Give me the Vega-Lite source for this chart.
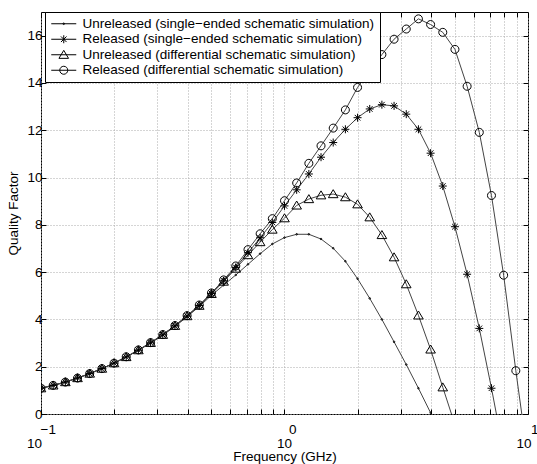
{
  "$schema": "https://vega.github.io/schema/vega-lite/v6.json",
  "width": 487,
  "height": 402,
  "autosize": "none",
  "padding": {"left": 41, "top": 12, "right": 9, "bottom": 50},
  "background": "white",
  "config": {
    "view": {"stroke": "#000", "strokeWidth": 1},
    "font": "Liberation Sans",
    "axis": {
      "labelFont": "Liberation Sans",
      "titleFont": "Liberation Sans",
      "labelFontSize": 13.5,
      "titleFontSize": 13.5,
      "titleFontWeight": "normal",
      "labelColor": "#000",
      "titleColor": "#000",
      "tickColor": "#000",
      "domainColor": "#000",
      "gridColor": "#aaaaaa",
      "gridDash": [1, 2],
      "gridOpacity": 1,
      "gridWidth": 1
    }
  },
  "data": {
    "values": [
      {"f": 0.1, "a": 1.09, "b": 1.09, "c": 1.09, "d": 1.09},
      {"f": 0.1122, "a": 1.21, "b": 1.21, "c": 1.21, "d": 1.21},
      {"f": 0.12589, "a": 1.35, "b": 1.35, "c": 1.35, "d": 1.35},
      {"f": 0.14125, "a": 1.52, "b": 1.52, "c": 1.52, "d": 1.52},
      {"f": 0.15849, "a": 1.71, "b": 1.71, "c": 1.71, "d": 1.71},
      {"f": 0.17783, "a": 1.92, "b": 1.92, "c": 1.92, "d": 1.92},
      {"f": 0.19953, "a": 2.15, "b": 2.15, "c": 2.15, "d": 2.15},
      {"f": 0.22387, "a": 2.41, "b": 2.41, "c": 2.41, "d": 2.42},
      {"f": 0.25119, "a": 2.69, "b": 2.7, "c": 2.7, "d": 2.71},
      {"f": 0.28184, "a": 3.0, "b": 3.01, "c": 3.01, "d": 3.02},
      {"f": 0.31623, "a": 3.33, "b": 3.35, "c": 3.35, "d": 3.36},
      {"f": 0.35481, "a": 3.7, "b": 3.73, "c": 3.73, "d": 3.74},
      {"f": 0.39811, "a": 4.11, "b": 4.14, "c": 4.14, "d": 4.16},
      {"f": 0.44668, "a": 4.55, "b": 4.59, "c": 4.58, "d": 4.61},
      {"f": 0.50119, "a": 5.02, "b": 5.1, "c": 5.08, "d": 5.12},
      {"f": 0.56234, "a": 5.45, "b": 5.63, "c": 5.6, "d": 5.67},
      {"f": 0.63096, "a": 5.88, "b": 6.2, "c": 6.15, "d": 6.26},
      {"f": 0.70795, "a": 6.33, "b": 6.82, "c": 6.72, "d": 6.95},
      {"f": 0.79433, "a": 6.78, "b": 7.45, "c": 7.27, "d": 7.62},
      {"f": 0.89125, "a": 7.19, "b": 8.1, "c": 7.8, "d": 8.26},
      {"f": 1.0, "a": 7.46, "b": 8.8, "c": 8.28, "d": 9.02},
      {"f": 1.122, "a": 7.6, "b": 9.48, "c": 8.82, "d": 9.77},
      {"f": 1.2589, "a": 7.6, "b": 10.15, "c": 9.09, "d": 10.6},
      {"f": 1.4125, "a": 7.4, "b": 10.86, "c": 9.25, "d": 11.34},
      {"f": 1.5849, "a": 7.01, "b": 11.48, "c": 9.3, "d": 12.09},
      {"f": 1.7783, "a": 6.46, "b": 12.04, "c": 9.17, "d": 12.86},
      {"f": 1.9953, "a": 5.72, "b": 12.53, "c": 8.87, "d": 13.81},
      {"f": 2.2387, "a": 4.89, "b": 12.9, "c": 8.32, "d": 14.5},
      {"f": 2.5119, "a": 4.0, "b": 13.08, "c": 7.57, "d": 15.2},
      {"f": 2.8184, "a": 3.05, "b": 13.03, "c": 6.63, "d": 15.85},
      {"f": 3.1623, "a": 2.09, "b": 12.68, "c": 5.49, "d": 16.28},
      {"f": 3.5481, "a": 1.09, "b": 12.04, "c": 4.17, "d": 16.71},
      {"f": 3.9811, "a": 0.05, "b": 11.03, "c": 2.73, "d": 16.47},
      {"f": 4.4668, "b": 9.64, "c": 1.13, "d": 16.14},
      {"f": 5.0119, "b": 7.92, "c": -0.45, "d": 15.42},
      {"f": 5.6234, "b": 5.91, "d": 13.86},
      {"f": 6.3096, "b": 3.62, "d": 11.91},
      {"f": 7.0795, "b": 1.09, "d": 9.24},
      {"f": 7.9433, "b": -1.6, "d": 5.87},
      {"f": 8.9125, "d": 1.83},
      {"f": 10.0, "d": -1.9}
    ]
  },
  "transform": [
    {"fold": ["a", "b", "c", "d"], "as": ["s", "q"]},
    {"filter": "isValid(datum.q)"}
  ],
  "layer": [
    {
      "mark": {"type": "line", "clip": true, "color": "#444444", "strokeWidth": 1},
      "encoding": {
        "x": {
          "field": "f", "type": "quantitative",
          "scale": {"type": "log", "domain": [0.1, 10], "nice": false},
          "axis": {
            "orient": "bottom",
            "values": [0.1, 0.2, 0.3, 0.4, 0.5, 0.6, 0.7, 0.8, 0.9, 1, 2, 3, 4, 5, 6, 7, 8, 9, 10],
            "grid": true,
            "domain": false,
            "tickSize": -5,
            "labelExpr": "(datum.value < 0.15 || (datum.value > 0.95 && datum.value < 1.05) || datum.value > 9.5) ? '10' : ''",
            "labelFlush": false,
            "labelOverlap": false,
            "labelPadding": 27,
            "labelOffset": {"condition": [{"test": "datum.value < 0.15", "value": -7}, {"test": "datum.value > 9.5", "value": -4.5}], "value": -0.5},
            "title": "Frequency (GHz)",
            "titlePadding": 0
          }
        },
        "y": {
          "field": "q", "type": "quantitative",
          "scale": {"domain": [0, 17], "nice": false, "zero": false},
          "axis": {
            "orient": "left",
            "values": [0, 2, 4, 6, 8, 10, 12, 14, 16],
            "grid": true,
            "domain": false,
            "tickSize": -5,
            "labelPadding": 4,
            "title": "Quality Factor",
            "titlePadding": 6
          }
        },
        "detail": {"field": "s", "type": "nominal"}
      }
    },
    {
      "transform": [{"filter": "datum.s == 'a' || datum.s == 'b'"}],
      "mark": {"type": "point", "clip": true, "filled": false, "size": 64, "strokeWidth": 1, "color": "#000", "opacity": 1},
      "encoding": {
        "x": {
          "field": "f", "type": "quantitative",
          "scale": {"type": "log", "domain": [0.1, 10], "nice": false},
          "axis": {
            "orient": "top",
            "values": [0.1, 0.2, 0.3, 0.4, 0.5, 0.6, 0.7, 0.8, 0.9, 1, 2, 3, 4, 5, 6, 7, 8, 9, 10],
            "grid": false, "labels": false, "domain": false, "tickSize": -5, "title": null
          }
        },
        "y": {
          "field": "q", "type": "quantitative",
          "scale": {"domain": [0, 17], "nice": false, "zero": false},
          "axis": {
            "orient": "right",
            "values": [0, 2, 4, 6, 8, 10, 12, 14, 16],
            "grid": false, "labels": false, "domain": false, "tickSize": -5, "title": null
          }
        },
        "shape": {
          "field": "s", "type": "nominal",
          "scale": {
            "domain": ["a", "b", "c", "d"],
            "range": [
              "M0.2,0A0.2,0.2 0 1,1 -0.2,0A0.2,0.2 0 1,1 0.2,0Z",
              "M-1,0L1,0M0,-1L0,1M-0.7,-0.7L0.7,0.7M-0.7,0.7L0.7,-0.7",
              "M0,-1.1L1.2,0.9L-1.2,0.9Z",
              "M1,0A1,1 0 1,1 -1,0A1,1 0 1,1 1,0Z"
            ]
          },
          "legend": null
        }
      }
    },
    {
      "transform": [{"filter": "datum.s == 'c' || datum.s == 'd'"}],
      "mark": {"type": "point", "clip": true, "filled": false, "size": 64, "strokeWidth": 1, "color": "#000", "opacity": 1},
      "encoding": {
        "x": {
          "field": "f", "type": "quantitative",
          "scale": {"type": "log", "domain": [0.1, 10], "nice": false},
          "axis": {
            "orient": "bottom",
            "values": [0.1, 1, 10],
            "grid": false, "ticks": false, "domain": false,
            "labelExpr": "datum.value < 0.15 ? '−1' : datum.value > 9.5 ? '1' : '0'",
            "labelAlign": "left",
            "labelFlush": false,
            "labelOverlap": false,
            "labelPadding": 8,
            "labelOffset": {"condition": [{"test": "datum.value < 0.15", "value": -1}, {"test": "datum.value > 9.5", "value": 2.5}], "value": 4},
            "title": null
          }
        },
        "y": {
          "field": "q", "type": "quantitative",
          "scale": {"domain": [0, 17], "nice": false, "zero": false},
          "axis": null
        },
        "shape": {
          "field": "s", "type": "nominal",
          "scale": {
            "domain": ["a", "b", "c", "d"],
            "range": [
              "M0.2,0A0.2,0.2 0 1,1 -0.2,0A0.2,0.2 0 1,1 0.2,0Z",
              "M-1,0L1,0M0,-1L0,1M-0.7,-0.7L0.7,0.7M-0.7,0.7L0.7,-0.7",
              "M0,-1.1L1.2,0.9L-1.2,0.9Z",
              "M1,0A1,1 0 1,1 -1,0A1,1 0 1,1 1,0Z"
            ]
          },
          "legend": null
        }
      }
    },
    {
      "mark": {"type": "point", "filled": false, "size": 100, "strokeWidth": 1, "color": "#000", "opacity": 0},
      "encoding": {
        "x": {
          "field": "f", "type": "quantitative",
          "scale": {"type": "log", "domain": [0.1, 10], "nice": false},
          "axis": null
        },
        "y": {
          "field": "q", "type": "quantitative",
          "scale": {"domain": [0, 17], "nice": false, "zero": false},
          "axis": null
        },
        "shape": {
          "field": "s", "type": "nominal",
          "scale": {
            "domain": ["a", "b", "c", "d"],
            "range": [
              "M-1.1,0H3.9M1.56,0A0.16,0.16 0 1,1 1.24,0A0.16,0.16 0 1,1 1.56,0Z",
              "M-1.1,0H3.9M1.4,-0.8V0.8M0.84,-0.56L1.96,0.56M0.84,0.56L1.96,-0.56",
              "M-1.1,0H3.9M1.4,-0.88L2.36,0.72L0.44,0.72Z",
              "M-1.1,0H3.9M2.2,0A0.8,0.8 0 1,1 0.6,0A0.8,0.8 0 1,1 2.2,0Z"
            ]
          },
          "legend": {
            "title": null,
            "orient": "none",
            "legendX": 4,
            "legendY": 0,
            "padding": 5,
            "strokeColor": "#000",
            "fillColor": "#fff",
            "cornerRadius": 0,
            "labelFont": "Liberation Sans",
            "labelFontSize": 13.5,
            "labelColor": "#000",
            "labelLimit": 0,
            "labelOffset": 19,
            "rowPadding": 0.5,
            "symbolSize": 100,
            "symbolStrokeWidth": 1,
            "symbolStrokeColor": "#000",
            "symbolFillColor": "transparent",
            "symbolOpacity": 1,
            "labelExpr": "datum.label == 'a' ? 'Unreleased (single−ended schematic simulation)' : datum.label == 'b' ? 'Released (single−ended schematic simulation)' : datum.label == 'c' ? 'Unreleased (differential schematic simulation)' : 'Released (differential schematic simulation)'"
          }
        }
      }
    }
  ],
  "resolve": {"axis": {"x": "independent", "y": "independent"}, "scale": {"shape": "independent"}}
}
